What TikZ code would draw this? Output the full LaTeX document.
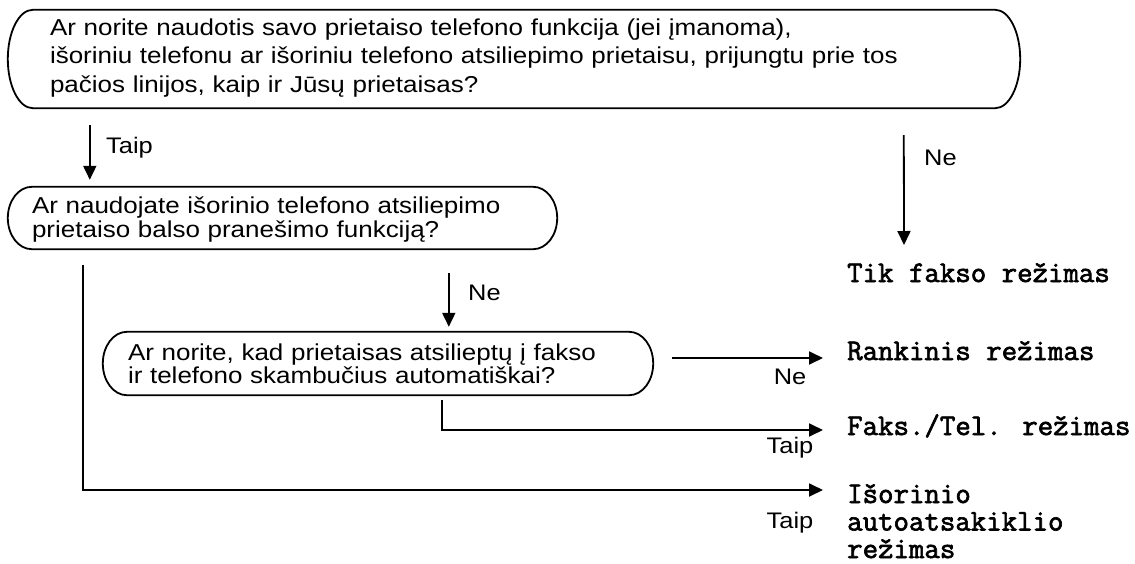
\documentclass[tikz,border=0pt]{standalone}
\usepackage{fontspec}
\setmainfont[FakeStretch=1.13]{Liberation Sans}
\newfontfamily\monob[FakeBold=2.2]{Latin Modern Mono}
\usetikzlibrary{arrows.meta,calc}
\newcommand\stadiumoutline[2]{%
  \draw[lw] let \p1=(#1.north), \p2=(#1.south), \n1={0.5*abs(\y1-\y2)} in
   ($(#1.north west)+(#2,0)$) -- ($(#1.north east)+(-#2,0)$)
   arc[start angle=90,end angle=-90,x radius=#2pt,y radius=\n1]
   -- ($(#1.south west)+(#2,0)$)
   arc[start angle=270,end angle=90,x radius=#2pt,y radius=\n1] -- cycle;}
\begin{document}
\begin{tikzpicture}[x=1pt,y=-1pt,
  lw/.style={line width=1.8pt},
  arr/.style={lw,-{Triangle[length=14pt,width=13pt]}},
  q/.style={inner ysep=0pt, align=left, anchor=center},
  lbl/.style={font=\fontsize{22.5}{24}\selectfont, inner sep=0pt},
  res/.style={font=\monob\fontsize{30}{27.5}\selectfont, inner sep=0pt, anchor=base west, align=left}
]
\fill[white] (0,0) rectangle (1135,563);
\useasboundingbox (0,0) rectangle (1135,563);

% question boxes
\node[q, text height=25pt, text depth=73pt, inner xsep=42pt, text width=928pt,
      font=\fontsize{23}{28.5}\selectfont] (q1) at (514,59)
 {Ar norite naudotis savo prietaiso telefono funkcija (jei įmanoma),\\
  išoriniu telefonu ar išoriniu telefono atsiliepimo prietaisu, prijungtu prie tos\\
  pačios linijos, kaip ir Jūsų prietaisas?};
\stadiumoutline{q1}{25}

\node[q, text height=26pt, text depth=36pt, inner xsep=24pt, text width=501pt,
      font=\fontsize{23}{24}\selectfont] (q2) at (282.5,218)
 {Ar naudojate išorinio telefono atsiliepimo\\
  prietaiso balso pranešimo funkciją?};
\stadiumoutline{q2}{24}

\node[q, text height=28pt, text depth=35pt, inner xsep=25pt, text width=500pt,
      font=\fontsize{23}{23}\selectfont] (q3) at (378,363.5)
 {Ar norite, kad prietaisas atsilieptų į fakso\\
  ir telefono skambučius automatiškai?};
\stadiumoutline{q3}{24}

% results
\node[res] (r1) at (847,282) {Tik fakso režimas};
\node[res] (r2) at (847,360) {Rankinis režimas};
\node[res] (r3) at (847,435) {Faks./Tel. režimas};
\node[res] (r4) at (847,558) {Išorinio\\autoatsakiklio\\režimas};

% connectors
\draw[arr] ($(q1.south west)+(82,17)$) -- ($(q2.north west)+(82,-7)$);
\node[lbl, anchor=west] (t1) at (106,148) {Taip};

\draw[arr] ($(q1.south west)+(896,27)$) -- ($(r1.base west)+(57,-37)$);
\node[lbl, anchor=west] (n1) at (924,158) {Ne};

\draw[arr] ($(q2.south west)+(441,24)$) -- ($(q3.north west)+(346,-5)$);
\node[lbl, anchor=west] (n2) at (468,293) {Ne};

\draw[arr] ($(q3.east)+(19,-5.5)$) -- ($(r2.base west)+(-24,-2)$);
\node[lbl] (n3) at (790,377) {Ne};

\draw[arr] ($(q3.south west)+(339,5)$) |- ($(r3.base west)+(-24,-5)$);
\node[lbl] (t2) at (790,448) {Taip};

\draw[arr] ($(q2.south west)+(75,16)$) |- ($(r4.base west)+(-24,-68)$);
\node[lbl] (t3) at (790,523) {Taip};
\end{tikzpicture}
\end{document}
